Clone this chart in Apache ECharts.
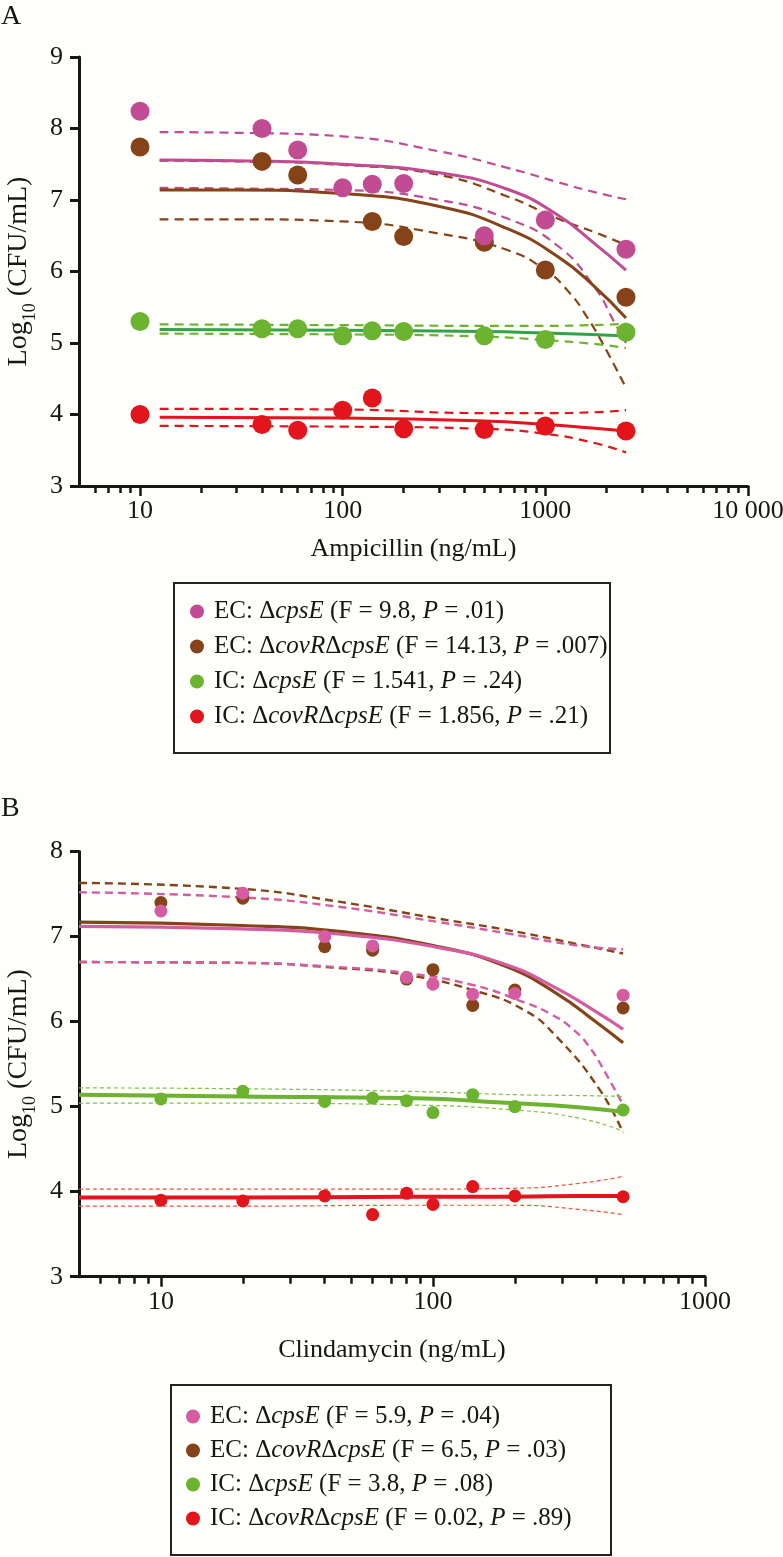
<!DOCTYPE html>
<html><head><meta charset="utf-8">
<script src="https://cdn.jsdelivr.net/npm/echarts@6/dist/echarts.min.js"></script>
<style>html,body{margin:0;padding:0;background:#fefefa}#c{width:783px;height:1557px}</style>
</head><body><div id="c"></div>
<script>
// ---------- DATA ----------
// Panel A: Ampicillin
const ampDoses = [10, 40, 60, 100, 140, 200, 500, 1000, 2500];
const ampEcCpsE = [8.24, 8.00, 7.70, 7.17, 7.22, 7.23, 6.50, 6.72, 6.31];
const ampEcCovR = [7.74, 7.54, 7.35, null, 6.70, 6.49, 6.41, 6.02, 5.64];
const ampIcCpsE = [5.30, 5.20, 5.20, 5.10, 5.17, 5.16, 5.10, 5.05, 5.15];
const ampIcCovR = [4.00, 3.86, 3.78, 4.06, 4.23, 3.80, 3.79, 3.84, 3.77];

const ampFitX = [12.5, 30, 100, 300, 650, 1150, 1750, 2500];
const ampEcCpsEFit = [7.56, 7.55, 7.50, 7.38, 7.15, 6.79, 6.39, 6.02];
const ampEcCpsEUp = [7.95, 7.94, 7.89, 7.68, 7.45, 7.25, 7.11, 7.01];
const ampEcCovRFit = [7.14, 7.14, 7.09, 6.91, 6.60, 6.21, 5.79, 5.35];
const ampEcCovRUp = [7.55, 7.54, 7.49, 7.35, 7.05, 6.74, 6.55, 6.37];
const ampEcCpsELoX = [12.5, 30, 100, 300, 650, 1150, 1750, 2200, 2500];
const ampEcCpsELo = [7.17, 7.16, 7.14, 7.00, 6.74, 6.36, 5.78, 5.28, 5.00];
const ampEcCovRLoX = [12.5, 30, 100, 300, 650, 1000, 1300, 1600, 2000, 2500];
const ampEcCovRLo = [6.73, 6.73, 6.70, 6.53, 6.30, 6.02, 5.72, 5.37, 4.90, 4.37];

const ampIcFitX = [12.5, 100, 500, 1000, 1700, 2500];
const ampIcCpsEFit = [5.19, 5.18, 5.16, 5.14, 5.12, 5.10];
const ampIcCpsEUp = [5.26, 5.25, 5.24, 5.24, 5.25, 5.27];
const ampIcCpsELo = [5.13, 5.12, 5.09, 5.04, 4.99, 4.93];
const ampIcCovRFit = [3.96, 3.95, 3.91, 3.86, 3.81, 3.77];
const ampIcCovRUp = [4.08, 4.07, 4.02, 4.02, 4.03, 4.06];
const ampIcCovRLo = [3.84, 3.83, 3.80, 3.73, 3.61, 3.47];

const ampTickValues = [10, 100, 1000, 10000];
const ampTickLabels = ['10', '100', '1000', '10 000'];
const ampMinorTicks = [6, 7, 8, 9, 20, 30, 40, 50, 60, 70, 80, 90, 200, 300, 400, 500, 600, 700, 800, 900, 2000, 3000, 4000, 5000, 6000, 7000, 8000, 9000];

// Panel B: Clindamycin
const cliDoses = [10, 20, 40, 60, 80, 100, 140, 200, 500];
const cliEcCpsE = [7.30, 7.51, 7.00, 6.89, 6.52, 6.44, 6.32, 6.33, 6.31];
const cliEcCovR = [7.40, 7.45, 6.88, 6.84, 6.50, 6.61, 6.19, 6.37, 6.16];
const cliIcCpsE = [5.09, 5.18, 5.06, 5.10, 5.07, 4.93, 5.14, 5.00, 4.96];
const cliIcCovR = [3.90, 3.89, 3.95, 3.73, 3.98, 3.85, 4.06, 3.95, 3.94];

const cliFitX = [5, 20, 45, 105, 185, 285, 400, 500];
const cliEcCovRFit = [7.17, 7.13, 7.06, 6.88, 6.65, 6.33, 5.99, 5.75];
const cliEcCpsEFit = [7.12, 7.09, 7.03, 6.87, 6.67, 6.39, 6.11, 5.91];
const cliUpX = [5, 20, 45, 105, 185, 330, 500];
const cliEcCovRUp = [7.63, 7.56, 7.41, 7.21, 7.08, 6.92, 6.80];
const cliEcCpsEUp = [7.52, 7.46, 7.35, 7.17, 7.04, 6.90, 6.85];
const cliEcCovRLoX = [5, 20, 45, 80, 140, 215, 285, 410, 500];
const cliEcCovRLo = [6.70, 6.69, 6.63, 6.55, 6.37, 6.14, 5.82, 5.20, 4.69];
const cliEcCpsELoX = [5, 20, 45, 80, 140, 215, 270, 330, 380, 430, 500];
const cliEcCpsELo = [6.70, 6.69, 6.64, 6.57, 6.43, 6.23, 6.09, 5.90, 5.68, 5.40, 5.02];

const cliIcFitX = [5, 20, 80, 200, 350, 500];
const cliIcCpsEFit = [5.14, 5.12, 5.10, 5.04, 4.99, 4.94];
const cliIcCpsEUp = [5.22, 5.21, 5.18, 5.14, 5.13, 5.12];
const cliIcCpsELo = [5.04, 5.04, 5.02, 4.96, 4.86, 4.71];
const cliIcCovRFit = [3.93, 3.93, 3.94, 3.94, 3.95, 3.95];
const cliIcCovRUp = [4.03, 4.03, 4.03, 4.04, 4.10, 4.18];
const cliIcCovRLo = [3.83, 3.83, 3.84, 3.84, 3.79, 3.73];

const cliTickValues = [10, 100, 1000];
const cliTickLabels = ['10', '100', '1000'];
const cliMinorTicks = [6, 7, 8, 9, 20, 30, 40, 50, 60, 70, 80, 90, 200, 300, 400, 500, 600, 700, 800, 900];

const legendA = ['EC: Δ*cpsE* (F = 9.8, *P* = .01)', 'EC: Δ*covR*Δ*cpsE* (F = 14.13, *P* = .007)', 'IC: Δ*cpsE* (F = 1.541, *P* = .24)', 'IC: Δ*covR*Δ*cpsE* (F = 1.856, *P* = .21)'];
const legendB = ['EC: Δ*cpsE* (F = 5.9, *P* = .04)', 'EC: Δ*covR*Δ*cpsE* (F = 6.5, *P* = .03)', 'IC: Δ*cpsE* (F = 3.8, *P* = .08)', 'IC: Δ*covR*Δ*cpsE* (F = 0.02, *P* = .89)'];

// ---------- STYLE ----------
const FONT = '"Liberation Serif", "DejaVu Serif", serif';
const INK = '#161616';
const cA = {pink: '#C24C94', brown: '#86431A', green: '#6CB32F', greenLine: '#2FA547', red: '#E2141C'};
const cB = {pink: '#D65CA2', brown: '#86431A', green: '#6CB32F', greenLine: '#6CB32F', red: '#E2141C', redDash: '#F0503C', greenDash: '#7DC24B'};

function pairs(xs, ys) { const out = []; xs.forEach((x, i) => { if (ys[i] != null) out.push([x, ys[i]]); }); return out; }
function toRich(s) { return s.split('*').map((p, i) => p ? '{' + (i % 2 ? 'i' : 'r') + '|' + p + '}' : '').join(''); }

const labelMap = {};
['aPink','aBrown','aGreen','aRed'].forEach((k, i) => labelMap[k] = toRich(legendA[i]));
['bPink','bBrown','bGreen','bRed'].forEach((k, i) => labelMap[k] = toRich(legendB[i]));

function line(name, xi, yi, xs, ys, color, width, dash, z) {
  return {name, type: 'line', xAxisIndex: xi, yAxisIndex: yi, data: pairs(xs, ys), smooth: 0.5,
    showSymbol: false, symbol: 'none', silent: true, z: z || 2,
    lineStyle: {color, width, type: dash ? dash : 'solid', cap: 'butt'}};
}
function scat(name, xi, yi, xs, ys, color, size, z) {
  return {name, type: 'scatter', xAxisIndex: xi, yAxisIndex: yi, data: pairs(xs, ys), symbol: 'circle', symbolSize: size,
    itemStyle: {color, opacity: 1}, z: z || 5, silent: true};
}

const legRich = {
  r: {fontFamily: FONT, fontSize: 25, color: INK, lineHeight: 26},
  i: {fontFamily: FONT, fontSize: 25, color: INK, fontStyle: 'italic', lineHeight: 26}
};
const yNameRich = {
  a: {fontFamily: FONT, fontSize: 28, color: INK, lineHeight: 40, verticalAlign: 'middle'},
  s: {fontFamily: FONT, fontSize: 18, color: INK, lineHeight: 18, verticalAlign: 'bottom'}
};

function xMain(gridIndex, max, tickVals, tickLabels, nameText, nameGap) {
  return {type: 'log', logBase: 10, gridIndex, min: 5, max, position: 'bottom',
    name: nameText, nameLocation: 'middle', nameGap,
    nameTextStyle: {fontFamily: FONT, fontSize: 26, color: INK},
    axisLine: {show: true, onZero: false, lineStyle: {color: INK, width: 3}},
    axisTick: {show: true, customValues: tickVals, length: 10, lineStyle: {color: INK, width: 2.5}},
    axisLabel: {show: true, customValues: tickVals, margin: 12, fontFamily: FONT, fontSize: 26, color: INK,
      hideOverlap: false,
      formatter: v => { const k = tickVals.findIndex(t => Math.abs(t - v) / t < 1e-6); return k >= 0 ? tickLabels[k] : ''; }},
    splitLine: {show: false}, minorTick: {show: false}, minorSplitLine: {show: false}};
}
function xMinor(gridIndex, max, minor) {
  return {type: 'log', logBase: 10, gridIndex, min: 5, max, position: 'bottom',
    axisLine: {show: false, onZero: false},
    axisTick: {show: true, customValues: minor, length: 7, lineStyle: {color: INK, width: 2.5}},
    axisLabel: {show: false}, splitLine: {show: false}};
}
function yAx(gridIndex, max, nameGap) {
  return {type: 'value', gridIndex, min: 3, max, interval: 1,
    name: '{a|Log}{s|10}{a| (CFU/mL)}', nameLocation: 'middle', nameGap, nameRotate: 90,
    nameTextStyle: {rich: yNameRich},
    axisLine: {show: true, onZero: false, lineStyle: {color: INK, width: 3}},
    axisTick: {show: true, length: 9, lineStyle: {color: INK, width: 3}},
    axisLabel: {margin: 16, fontFamily: FONT, fontSize: 26, color: INK},
    splitLine: {show: false}};
}

// xAxis indices: 0 = A main, 1 = B main, 2 = A minor ticks, 3 = B minor ticks
const series = [
  // Panel A lines
  line('aPinkUp', 0, 0, ampFitX, ampEcCpsEUp, cA.pink, 2.2, [9, 6]),
  line('aPinkLo', 0, 0, ampEcCpsELoX, ampEcCpsELo, cA.pink, 2.2, [9, 6]),
  line('aBrownUp', 0, 0, ampFitX, ampEcCovRUp, cA.brown, 2.2, [9, 6]),
  line('aBrownLo', 0, 0, ampEcCovRLoX, ampEcCovRLo, cA.brown, 2.2, [9, 6]),
  line('aBrownFit', 0, 0, ampFitX, ampEcCovRFit, cA.brown, 3),
  line('aPinkFit', 0, 0, ampFitX, ampEcCpsEFit, cA.pink, 3),
  line('aGreenUp', 0, 0, ampIcFitX, ampIcCpsEUp, cA.green, 2.2, [9, 6]),
  line('aGreenLo', 0, 0, ampIcFitX, ampIcCpsELo, cA.green, 2.2, [9, 6]),
  line('aGreenFit', 0, 0, ampIcFitX, ampIcCpsEFit, cA.greenLine, 3),
  line('aRedUp', 0, 0, ampIcFitX, ampIcCovRUp, cA.red, 2.2, [9, 6]),
  line('aRedLo', 0, 0, ampIcFitX, ampIcCovRLo, cA.red, 2.2, [9, 6]),
  line('aRedFit', 0, 0, ampIcFitX, ampIcCovRFit, cA.red, 3),
  // Panel A points
  scat('aBrown', 0, 0, ampDoses, ampEcCovR, cA.brown, 19, 5),
  scat('aPink', 0, 0, ampDoses, ampEcCpsE, cA.pink, 19, 6),
  scat('aGreen', 0, 0, ampDoses, ampIcCpsE, cA.green, 19, 6),
  scat('aRed', 0, 0, ampDoses, ampIcCovR, cA.red, 19, 6),
  // Panel B lines
  line('bBrownUp', 1, 1, cliUpX, cliEcCovRUp, cB.brown, 2.4, [8, 5]),
  line('bPinkUp', 1, 1, cliUpX, cliEcCpsEUp, cB.pink, 2.4, [8, 5]),
  line('bBrownLo', 1, 1, cliEcCovRLoX, cliEcCovRLo, cB.brown, 2.4, [8, 5]),
  line('bPinkLo', 1, 1, cliEcCpsELoX, cliEcCpsELo, cB.pink, 2.4, [8, 5]),
  line('bBrownFit', 1, 1, cliFitX, cliEcCovRFit, cB.brown, 3.2),
  line('bPinkFit', 1, 1, cliFitX, cliEcCpsEFit, cB.pink, 3.2),
  line('bGreenUp', 1, 1, cliIcFitX, cliIcCpsEUp, cB.greenDash, 1.2, [4, 3]),
  line('bGreenLo', 1, 1, cliIcFitX, cliIcCpsELo, cB.greenDash, 1.2, [4, 3]),
  line('bGreenFit', 1, 1, cliIcFitX, cliIcCpsEFit, cB.greenLine, 4),
  line('bRedUp', 1, 1, cliIcFitX, cliIcCovRUp, cB.redDash, 1.2, [4, 3]),
  line('bRedLo', 1, 1, cliIcFitX, cliIcCovRLo, cB.redDash, 1.2, [4, 3]),
  line('bRedFit', 1, 1, cliIcFitX, cliIcCovRFit, cB.red, 4),
  // Panel B points
  scat('bBrown', 1, 1, cliDoses, cliEcCovR, cB.brown, 13, 5),
  scat('bPink', 1, 1, cliDoses, cliEcCpsE, cB.pink, 13, 6),
  scat('bGreen', 1, 1, cliDoses, cliIcCpsE, cB.green, 13, 6),
  scat('bRed', 1, 1, cliDoses, cliIcCovR, cB.red, 13, 6)
];

const legendCommon = {orient: 'vertical', icon: 'circle', itemWidth: 24, itemHeight: 14, padding: 0,
  selectedMode: false, formatter: n => labelMap[n], textStyle: {rich: legRich}};

const option = {
  backgroundColor: '#fefefa',
  animation: false,
  grid: [
    {left: 79, top: 57, width: 669, height: 429, outerBoundsMode: 'none', containLabel: false},
    {left: 79, top: 851.5, width: 626, height: 425.2, outerBoundsMode: 'none', containLabel: false}
  ],
  xAxis: [
    xMain(0, 10000, ampTickValues, ampTickLabels, 'Ampicillin (ng/mL)', 50),
    xMain(1, 1000, cliTickValues, cliTickLabels, 'Clindamycin (ng/mL)', 60),
    xMinor(0, 10000, ampMinorTicks),
    xMinor(1, 1000, cliMinorTicks)
  ],
  yAxis: [yAx(0, 9, 38), yAx(1, 8, 38)],
  legend: [
    Object.assign({}, legendCommon, {left: 190, top: 599, itemGap: 10, data: ['aPink', 'aBrown', 'aGreen', 'aRed']}),
    Object.assign({}, legendCommon, {left: 186, top: 1404, itemGap: 9, data: ['bPink', 'bBrown', 'bGreen', 'bRed']})
  ],
  graphic: [
    {type: 'text', left: 1, top: 3, style: {text: 'A', font: '28px ' + FONT, fill: INK}},
    {type: 'text', left: 1, top: 795, style: {text: 'B', font: '28px ' + FONT, fill: INK}},
    {type: 'rect', shape: {x: 174, y: 583, width: 436, height: 170}, style: {fill: 'none', stroke: '#222', lineWidth: 2}, silent: true},
    {type: 'rect', shape: {x: 171, y: 1385, width: 440, height: 170}, style: {fill: 'none', stroke: '#222', lineWidth: 2}, silent: true}
  ],
  series
};

const chart = echarts.init(document.getElementById('c'), null, {renderer: 'canvas'});
chart.setOption(option);
</script>
</body></html>
